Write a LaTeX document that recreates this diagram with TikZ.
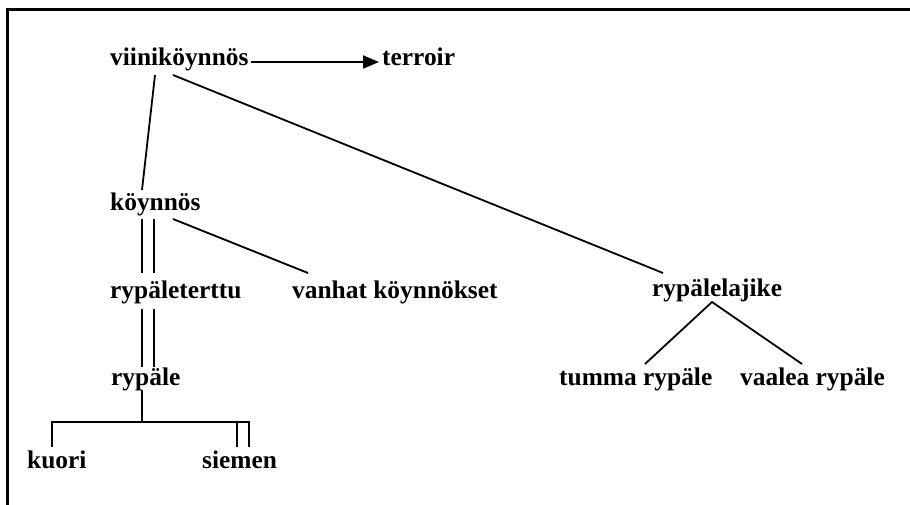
\documentclass[tikz,border=0pt]{standalone}
\usepackage{fontspec}
\setmainfont{Liberation Serif}
\usetikzlibrary{arrows.meta}
\begin{document}
\begin{tikzpicture}[x=1pt,y=-1pt,
  term/.style={inner sep=0pt,anchor=base west,font=\fontsize{25.4}{30}\selectfont\bfseries},
  link/.style={line width=1.8pt},
  every path/.style={line cap=butt}]
\useasboundingbox (0,0) rectangle (910,505);
% open frame: top and left edges only
\draw[line width=2.2pt] (910,9.5) -- (7.5,9.5) -- (7.5,505);

% terms
\node[term] (vk)  at (110,66)  {viiniköynnös};
\node[term] (ter) at (382,66)  {terroir};
\node[term] (koy) at (110,211) {köynnös};
\node[term] (rpt) at (110,298) {rypäleterttu};
\node[term] (van) at (292,298) {vanhat köynnökset};
\node[term] (ryl) at (652,296) {rypälelajike};
\node[term] (ryp) at (111,385) {rypäle};
\node[term] (tum) at (559,385) {tumma rypäle};
\node[term] (vaa) at (740,385) {vaalea rypäle};
\node[term] (kuo) at (27,468)  {kuori};
\node[term] (sie) at (202,468) {siemen};

% arrow to terroir
\draw[link,-{Triangle[length=16pt,width=13pt]}]
  ([shift={(2,-4)}]vk.base east) -- ([shift={(-3,-4)}]ter.base west);

% single links
\draw[link] ([shift={(45,9)}]vk.base west) -- ([shift={(32,-21)}]koy.base west);
\draw[link] ([shift={(63,9)}]vk.base west) -- ([shift={(11,-23)}]ryl.base west);
\draw[link] ([shift={(63,8)}]koy.base west) -- ([shift={(16,-25)}]van.base west);

% double links
\draw[link] ([shift={(32,8)}]koy.base west) -- ([shift={(32,-25)}]rpt.base west);
\draw[link] ([shift={(44,8)}]koy.base west) -- ([shift={(44,-25)}]rpt.base west);
\draw[link] ([shift={(32,11)}]rpt.base west) -- ([shift={(31,-18)}]ryp.base west);
\draw[link] ([shift={(44,11)}]rpt.base west) -- ([shift={(43,-18)}]ryp.base west);

% grape variety branches
\draw[link] ([shift={(86,-21)}]tum.base west) -- ([shift={(60,6)}]ryl.base west)
  -- ([shift={(62,-21)}]vaa.base west);

% bracket under rypäle
\draw[link] ([shift={(31,5)}]ryp.base west) -- ++(0,32);
\draw[link] ([shift={(25,-21)}]kuo.base west) -- ++(0,-25) -| ([shift={(47,-21)}]sie.base west);
\draw[link] ([shift={(35,-21)}]sie.base west) -- ++(0,-25);
\end{tikzpicture}
\end{document}
